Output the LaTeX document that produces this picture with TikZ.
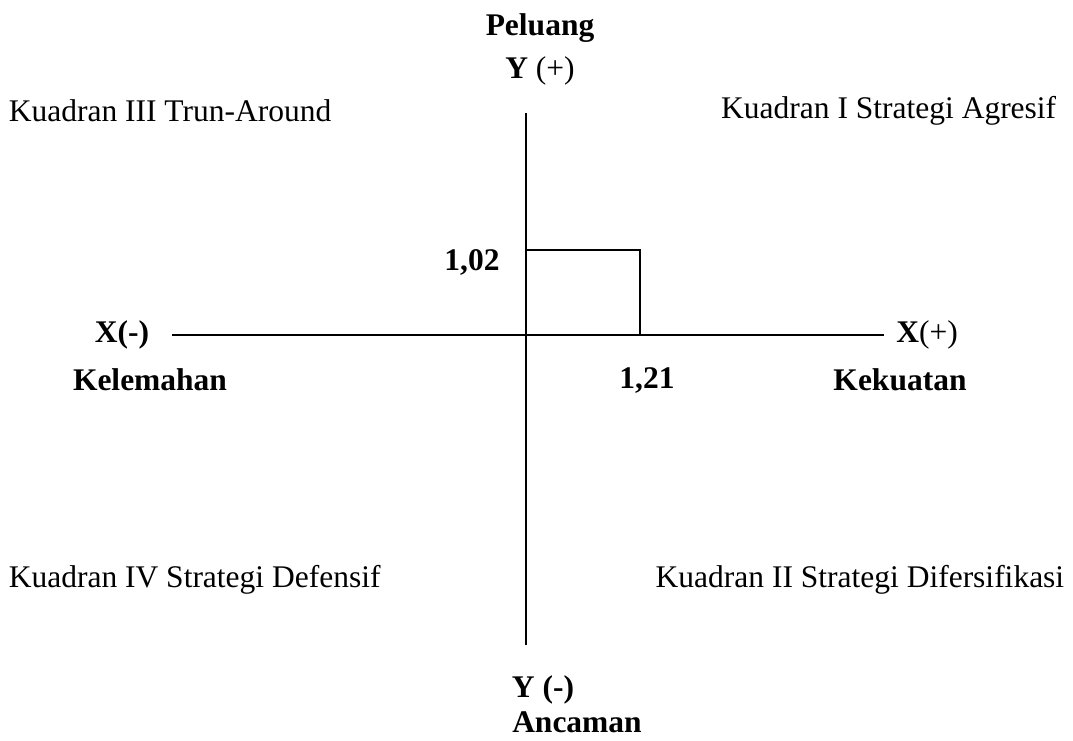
\documentclass[tikz,border=0pt]{standalone}
\usepackage{fontspec}
\setmainfont{Liberation Serif}
\usetikzlibrary{positioning}

\begin{document}
\begin{tikzpicture}[x=1pt, y=-1pt, line width=1.6pt]
\tikzstyle{lbl} = [inner sep=0pt, font=\fontsize{31.5}{36}\selectfont]
\tikzstyle{bold} = [lbl, font=\fontsize{31.5}{36}\selectfont\bfseries]
\tikzstyle{quad} = [lbl, anchor=west]
\useasboundingbox (0,0) rectangle (1073,740);

    % axis ends
    \coordinate (top) at (526,113);
    \coordinate (bottom) at (526,645);
    \coordinate (left) at (172,335);
    \coordinate (right) at (884,335);
    \coordinate (origin) at (526,335);
    \coordinate (ypt) at (526,250);
    \coordinate (xpt) at (640,335);
    \coordinate (corner) at (640,250);

    \node [bold] (peluang) at (540,28) {Peluang};
    \node [bold] (ypos) at (540,71) {Y \textmd{(+)}};
    \node [bold] (yneg) at (543,690) {Y (-)};
    \node [bold] (ancaman) at (577,722) {Ancaman};
    \node [bold] (xneg) at (122,335) {X(-)};
    \node [bold] (kelemahan) at (150,380) {Kelemahan};
    \node [bold] (xpos) at (927,335) {X\textmd{(+)}};
    \node [bold] (kekuatan) at (900,380) {Kekuatan};
    \node [bold] (yval) at (472,262) {1,02};
    \node [bold] (xval) at (647,380) {1,21};

    \node [quad] (q3) at (8,111) {Kuadran III Trun-Around};
    \node [lbl, anchor=east] (q1) at (1057,111) {Kuadran I Strategi Agresif};
    \node [quad] (q4) at (8,580) {Kuadran IV Strategi Defensif};
    \node [lbl, anchor=east] (q2) at (1065,580) {Kuadran II Strategi Difersifikasi};

    % axes and the point
    \draw (top) -- (bottom);
    \draw (left) -- (right);
    \draw [line width=1.2pt] (ypt) -- (corner) -- (xpt);

\end{tikzpicture}
\end{document}
